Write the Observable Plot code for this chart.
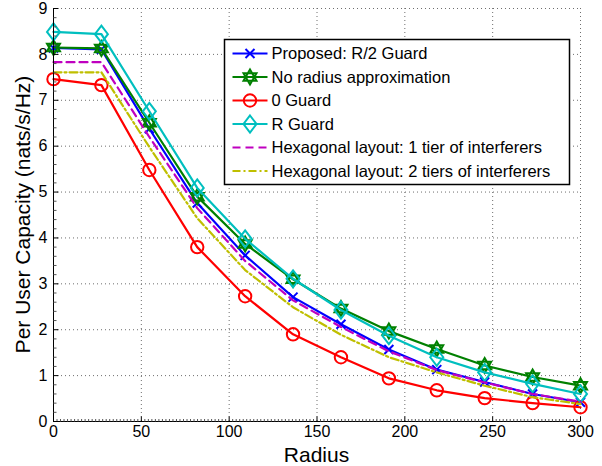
<!DOCTYPE html>
<html><head><meta charset="utf-8">
<script src="https://cdn.jsdelivr.net/npm/d3@7"></script>
<script src="https://cdn.jsdelivr.net/npm/@observablehq/plot@0.6"></script>
<style>
body{margin:0;background:#fff;}
#wrap{position:relative;width:602px;height:466px;}
</style></head><body><div id="wrap"></div>
<script>
// ---- data ----
const radius = [0, 27.27, 54.55, 81.82, 109.09, 136.36, 163.64, 190.91, 218.18, 245.45, 272.73, 300];
const proposedR2 = [8.14, 8.11, 6.38, 4.76, 3.62, 2.71, 2.12, 1.57, 1.13, 0.86, 0.60, 0.42];
const noApprox   = [8.15, 8.13, 6.51, 4.90, 3.87, 3.10, 2.46, 1.97, 1.58, 1.22, 0.97, 0.78];
const guard0     = [7.46, 7.33, 5.48, 3.80, 2.73, 1.90, 1.40, 0.94, 0.68, 0.51, 0.40, 0.31];
const guardR     = [8.49, 8.44, 6.76, 5.09, 3.98, 3.11, 2.43, 1.87, 1.40, 1.07, 0.82, 0.60];
const hex1       = [7.83, 7.83, 6.20, 4.65, 3.50, 2.64, 2.06, 1.53, 1.12, 0.85, 0.60, 0.43];
const hex2       = [7.61, 7.61, 5.98, 4.43, 3.30, 2.49, 1.89, 1.40, 1.07, 0.78, 0.53, 0.38];
const seriesNames = ["Proposed: R/2 Guard", "No radius approximation", "0 Guard", "R Guard",
  "Hexagonal layout: 1 tier of interferers", "Hexagonal layout: 2 tiers of interferers"];
const xTicks = [0, 50, 100, 150, 200, 250, 300];
const yTicks = [0, 1, 2, 3, 4, 5, 6, 7, 8, 9];
const xLabel = "Radius";
const yLabel = "Per User Capacity (nats/s/Hz)";

// ---- custom marker symbols ----
const symTimes = {draw(c){const r=4.5;c.moveTo(-r,-r);c.lineTo(r,r);c.moveTo(-r,r);c.lineTo(r,-r);}};
const symHex = {draw(c){const r=7.5;
  for (const off of [-90, 90]) {
    for (let i=0;i<3;i++){const a=(off+i*120)*Math.PI/180; const x=r*Math.cos(a), y=r*Math.sin(a); if(i===0)c.moveTo(x,y); else c.lineTo(x,y);}
    c.closePath();
  }}};
const symCircle = {draw(c){const r=6.2;c.moveTo(r,0);c.arc(0,0,r,0,2*Math.PI);}};
const symDiamond = {draw(c){c.moveTo(0,-8.5);c.lineTo(6.5,0);c.lineTo(0,8.5);c.lineTo(-6.5,0);c.closePath();}};
const tickUp = {draw(c){c.moveTo(0,0);c.lineTo(0,-5);}};
const tickUpMinor = {draw(c){c.moveTo(0,0);c.lineTo(0,-2.5);}};
const tickRight = {draw(c){c.moveTo(0,0);c.lineTo(5,0);}};
const tickRightMinor = {draw(c){c.moveTo(0,0);c.lineTo(3,0);}};

const styles = [
  {color:"#0000ff", dash:null, sym:symTimes},
  {color:"#008000", dash:null, sym:symHex},
  {color:"#ff0000", dash:null, sym:symCircle},
  {color:"#00bfbf", dash:null, sym:symDiamond},
  {color:"#bf00bf", dash:"8,5", sym:null},
  {color:"#bfbf00", dash:"8,3,2,3", sym:null}
];
const allSeries = [proposedR2, noApprox, guard0, guardR, hex1, hex2];
const rowsFor = (vals) => radius.map((x, i) => ({x, y: vals[i]}));

const xMinor = d3.range(0, 300.001, 2).filter(v => v % 50 !== 0);
const yMinor = d3.range(0, 9.001, 0.2).map(v => +v.toFixed(1)).filter(v => Math.abs(v - Math.round(v)) > 1e-6);

const font = "'Liberation Sans', Arial, Helvetica, sans-serif";
const marks = [
  Plot.gridX(xTicks, {stroke: "#6e6e6e", strokeOpacity: 1, strokeDasharray: "1,3"}),
  Plot.gridY(yTicks, {stroke: "#6e6e6e", strokeOpacity: 1, strokeDasharray: "1,3"})
];
allSeries.forEach((vals, k) => {
  const s = styles[k];
  marks.push(Plot.line(rowsFor(vals), {x: "x", y: "y", stroke: s.color, strokeWidth: 2.2, strokeDasharray: s.dash}));
  if (s.sym) marks.push(Plot.dot(rowsFor(vals), {x: "x", y: "y", symbol: s.sym, stroke: s.color, strokeWidth: 2, fill: "none"}));
});
marks.push(
  Plot.ruleX([0], {stroke: "#000", strokeWidth: 1}),
  Plot.ruleY([0], {stroke: "#000", strokeWidth: 1}),
  Plot.dot(xTicks, {x: d => d, y: () => 0, symbol: tickUp, stroke: "#000", strokeWidth: 1, fill: "none"}),
  Plot.dot(xMinor, {x: d => d, y: () => 0, symbol: tickUpMinor, stroke: "#555", strokeWidth: 1, fill: "none"}),
  Plot.dot(yTicks, {y: d => d, x: () => 0, symbol: tickRight, stroke: "#000", strokeWidth: 1, fill: "none"}),
  Plot.dot(yMinor, {y: d => d, x: () => 0, symbol: tickRightMinor, stroke: "#555", strokeWidth: 1, fill: "none"}),
  Plot.axisX(xTicks, {tickSize: 0, tickPadding: 4, label: null, fontSize: 16, tickFormat: d => String(d)}),
  Plot.axisY(yTicks, {tickSize: 0, tickPadding: 6, label: null, fontSize: 16, tickFormat: d => String(d)})
);

const chart = Plot.plot({
  width: 602, height: 466,
  marginLeft: 53, marginRight: 22, marginTop: 8, marginBottom: 45,
  style: {fontFamily: font, background: "white", color: "#000"},
  x: {domain: [0, 300], label: null},
  y: {domain: [0, 9], label: null},
  marks
});
document.getElementById("wrap").appendChild(chart);

// ---- axis titles and legend ----
const svg = d3.select(chart);
svg.append("text").text(xLabel)
  .attr("x", (53 + 580) / 2).attr("y", 462)
  .attr("text-anchor", "middle").attr("font-size", 21).attr("font-family", font).attr("fill", "#000");
svg.append("text").text(yLabel)
  .attr("transform", `translate(30,${(8 + 421) / 2}) rotate(-90)`)
  .attr("text-anchor", "middle").attr("font-size", 21).attr("font-family", font).attr("fill", "#000");

const lg = svg.append("g").attr("transform", "translate(224.5,39.5)").attr("text-anchor", "start");
lg.append("rect").attr("width", 345).attr("height", 145).attr("fill", "#fff").attr("stroke", "#000").attr("stroke-width", 1.5);
seriesNames.forEach((name, i) => {
  const s = styles[i];
  const cy = 14 + i * 23.5;
  lg.append("line").attr("x1", 8).attr("x2", 43).attr("y1", cy).attr("y2", cy)
    .attr("stroke", s.color).attr("stroke-width", 2.2).attr("stroke-dasharray", s.dash);
  if (s.sym) lg.append("path").attr("d", d3.symbol().type(s.sym)())
    .attr("transform", `translate(25.5,${cy})`).attr("fill", "none").attr("stroke", s.color).attr("stroke-width", 2);
  lg.append("text").text(name).attr("x", 47).attr("y", cy).attr("dy", "0.36em").attr("text-anchor", "start")
    .attr("font-size", 16.5).attr("font-family", font).attr("fill", "#000");
});
</script></body></html>
